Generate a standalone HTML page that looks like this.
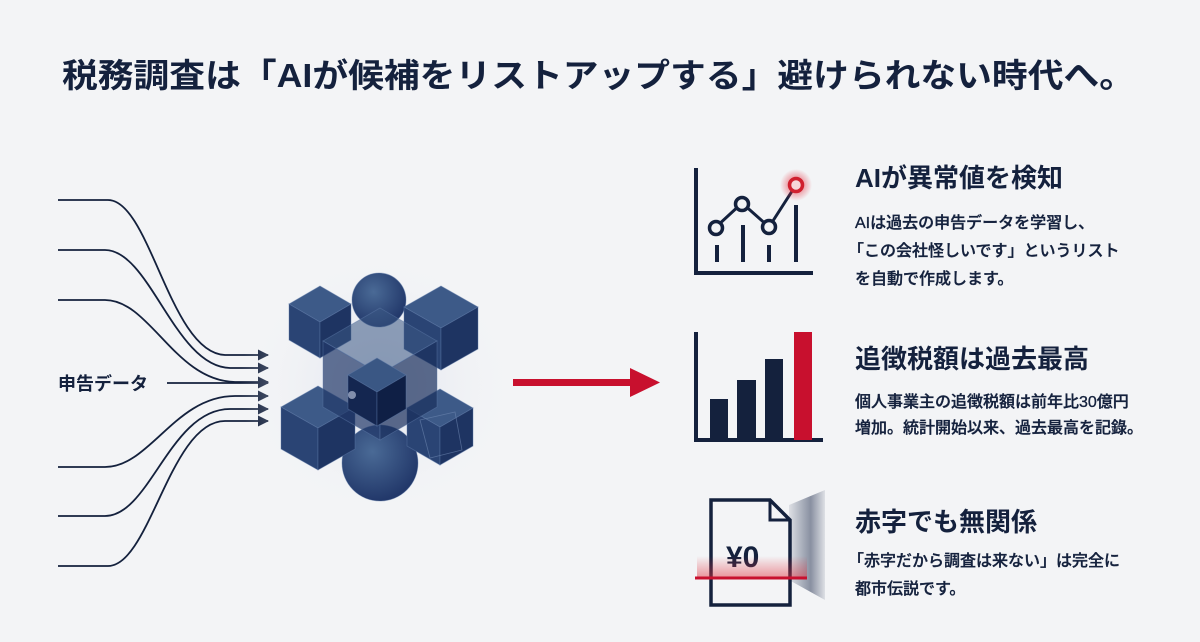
<!DOCTYPE html>
<html><head><meta charset="utf-8"><style>
html,body{margin:0;padding:0;background:#f3f4f6;}
svg{display:block;}
text{font-family:"Liberation Sans","Noto Sans CJK JP",sans-serif;fill:#14213d;}
</style></head><body>
<svg width="1200" height="642" viewBox="0 0 1200 642" xmlns="http://www.w3.org/2000/svg">
<defs>
<radialGradient id="glow" cx="50%" cy="50%" r="50%">
<stop offset="0" stop-color="#dfe3ee"/><stop offset="1" stop-color="#f3f4f6" stop-opacity="0"/>
</radialGradient>
<radialGradient id="sph" cx="40%" cy="35%" r="65%">
<stop offset="0" stop-color="#4a6a96"/><stop offset="1" stop-color="#22386a"/>
</radialGradient>
<radialGradient id="red" cx="50%" cy="50%" r="50%">
<stop offset="0" stop-color="#e53040" stop-opacity="0.8"/><stop offset="1" stop-color="#e53040" stop-opacity="0"/>
</radialGradient>
<linearGradient id="beam" x1="0" y1="0" x2="1" y2="0">
<stop offset="0" stop-color="#1e2c4c" stop-opacity="0.1"/><stop offset="0.6" stop-color="#1e2c4c" stop-opacity="0.5"/><stop offset="1" stop-color="#1e2c4c" stop-opacity="0.1"/>
</linearGradient>
<linearGradient id="redband" x1="0" y1="0" x2="0" y2="1">
<stop offset="0" stop-color="#e0303d" stop-opacity="0"/><stop offset="1" stop-color="#e0303d" stop-opacity="0.5"/>
</linearGradient>
<marker id="ah" markerWidth="11" markerHeight="11" refX="10" refY="5.5" orient="auto" markerUnits="userSpaceOnUse">
<path d="M0,0 L11,5.5 L0,11 Z" fill="#14213d"/></marker>
</defs>
<rect width="1200" height="642" fill="#f3f4f6"/>

<text x="62" y="87" font-size="33" font-weight="bold" textLength="1073" lengthAdjust="spacingAndGlyphs">税務調査は「AIが候補をリストアップする」避けられない時代へ。</text>

<!-- flow lines -->
<g fill="none" stroke="#14213d" stroke-width="1.8">
<path d="M58,200 H108 C150,200 170,353 225,355 H268" marker-end="url(#ah)"/>
<path d="M58,250 H105 C150,250 175,367 230,368 H268" marker-end="url(#ah)"/>
<path d="M58,300 H105 C150,300 175,381 235,382 H268" marker-end="url(#ah)"/>
<path d="M167,383 H268" marker-end="url(#ah)"/>
<path d="M58,467 H105 C150,467 175,396 235,396 H268" marker-end="url(#ah)"/>
<path d="M58,516 H105 C150,516 170,409 230,409 H268" marker-end="url(#ah)"/>
<path d="M58,566 H108 C150,566 170,421 225,421 H268" marker-end="url(#ah)"/>
</g>
<text x="58" y="390" font-size="18" font-weight="bold">申告データ</text>

<!-- cube cluster -->
<ellipse cx="380" cy="385" rx="140" ry="135" fill="url(#glow)"/>
<g stroke="#5d7aa8" stroke-width="0.8" stroke-opacity="0.5">
<circle cx="379" cy="300" r="27" fill="url(#sph)"/>
<circle cx="380" cy="463" r="38" fill="url(#sph)"/>
<!-- top-left cube c(320,322) r36 -->
<polygon points="320,286 351,304 320,322 289,304" fill="#3d5a88"/>
<polygon points="289,304 320,322 320,358 289,340" fill="#2a4474"/>
<polygon points="320,322 351,304 351,340 320,358" fill="#1e3462"/>
<!-- top-right cube c(441,328) r42 -->
<polygon points="441,286 478,307 441,328 404,307" fill="#3d5a88"/>
<polygon points="404,307 441,328 441,370 404,349" fill="#2a4474"/>
<polygon points="441,328 478,307 478,349 441,370" fill="#1e3462"/>
<!-- bottom-left cube c(318,428) r42 -->
<polygon points="318,386 355,407 318,428 281,407" fill="#3d5a88"/>
<polygon points="281,407 318,428 318,470 281,449" fill="#2a4474"/>
<polygon points="318,428 355,407 355,449 318,470" fill="#1e3462"/>
<!-- bottom-right c(440,427) r38 -->
<polygon points="440,389 473,408 440,427 407,408" fill="#3d5a88"/>
<polygon points="407,408 440,427 440,465 407,446" fill="#2a4474"/>
<polygon points="440,427 473,408 473,446 440,465" fill="#1e3462"/>
<polygon points="420,420 455,412 462,450 430,458" fill="none" stroke="#6f88b2" stroke-opacity="0.6"/>
<!-- big translucent cube c(380,374) r66 -->
<polygon points="380,308 437,341 380,374 323,341" fill="#3a5784" fill-opacity="0.55"/>
<polygon points="323,341 380,374 380,440 323,407" fill="#22396a" fill-opacity="0.7"/>
<polygon points="380,374 437,341 437,407 380,440" fill="#1a2f5c" fill-opacity="0.7"/>
<!-- inner cube c(377,392) r34 -->
<polygon points="377,358 406,375 377,392 348,375" fill="#3a5784"/>
<polygon points="348,375 377,392 377,426 348,409" fill="#142650"/>
<polygon points="377,392 406,375 406,409 377,426" fill="#0f1f45"/>
</g>
<circle cx="352" cy="395" r="4" fill="#c9d3ea" opacity="0.6"/>

<!-- red arrow -->
<rect x="513" y="379" width="122" height="7" fill="#c8102e"/>
<polygon points="630,368 660,382.5 630,397" fill="#c8102e"/>

<!-- chart 1 -->
<g stroke="#14213d" stroke-width="4" fill="none" stroke-linecap="butt">
<polyline points="696,168 696,273 813,273"/>
<line x1="717" y1="245" x2="717" y2="262"/>
<line x1="743" y1="225" x2="743" y2="262"/>
<line x1="769" y1="245" x2="769" y2="262"/>
<line x1="796" y1="205" x2="796" y2="262"/>
<polyline points="716,227 742,203 769,227 796,185" stroke-width="3"/>
</g>
<circle cx="796" cy="185" r="16" fill="url(#red)"/>
<g stroke-width="3.5" fill="#f3f4f6">
<circle cx="716" cy="228" r="6.5" stroke="#14213d"/>
<circle cx="742" cy="204" r="6.5" stroke="#14213d"/>
<circle cx="769" cy="227" r="6.5" stroke="#14213d"/>
<circle cx="796" cy="185" r="6.5" stroke="#d0202f" fill="#f7d6d9"/>
</g>
<text x="855" y="187" font-size="26" font-weight="bold">AIが異常値を検知</text>
<g font-size="16" font-weight="500" style="paint-order:stroke" stroke="#14213d" stroke-width="0.35">
<text x="855" y="228">AIは過去の申告データを学習し、</text>
<text x="848" y="256">「この会社怪しいです」というリスト</text>
<text x="855" y="284">を自動で作成します。</text>
<text x="855" y="407">個人事業主の追徴税額は前年比30億円</text>
<text x="855" y="433">増加。統計開始以来、過去最高を記錄。</text>
<text x="848" y="566">「赤字だから調査は来ない」は完全に</text>
<text x="855" y="594">都市伝説です。</text>
</g>

<!-- chart 2 -->
<polyline points="696,332 696,440 823,440" stroke="#14213d" stroke-width="4" fill="none"/>
<rect x="710" y="399" width="18" height="41" fill="#14213d"/>
<rect x="737" y="380" width="19" height="60" fill="#14213d"/>
<rect x="765" y="359" width="18" height="81" fill="#14213d"/>
<rect x="794" y="332" width="18" height="108" fill="#c8102e"/>
<text x="855" y="368" font-size="26" font-weight="bold">追徴税額は過去最高</text>

<!-- doc icon -->
<polygon points="789,505 825,490 825,600 789,580" fill="url(#beam)"/>
<path d="M711,500 H770 L790,520 V605 H711 Z" fill="none" stroke="#14213d" stroke-width="3.5"/>
<path d="M770,500 V520 H790" fill="none" stroke="#14213d" stroke-width="3"/>
<text x="726" y="567" font-size="30" font-weight="bold">¥0</text>
<rect x="697" y="556" width="110" height="22" fill="url(#redband)"/>
<line x1="695" y1="578" x2="807" y2="578" stroke="#c8102e" stroke-width="3"/>
<text x="855" y="531" font-size="26" font-weight="bold">赤字でも無関係</text>
</svg>
</body></html>
